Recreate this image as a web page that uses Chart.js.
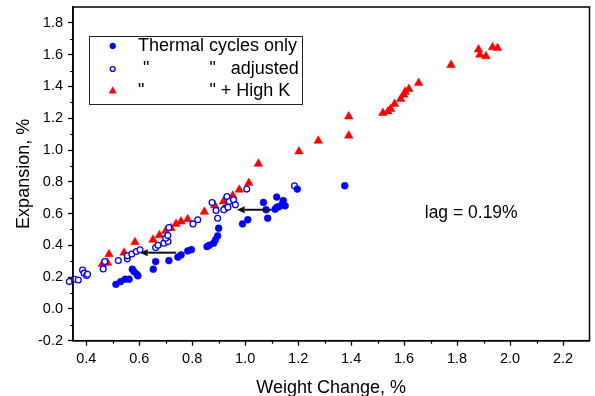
<!DOCTYPE html>
<html>
<head>
<meta charset="utf-8">
<script src="https://cdn.jsdelivr.net/npm/chart.js"></script>
<style>
  body { margin: 0; background: #fff; overflow: hidden; }
</style>
</head>
<body>
<canvas id="expansionChart" width="595" height="396"></canvas>
<script>
// weight change (%) and expansion (%)
const thermalX = [0.512, 0.530, 0.547, 0.562, 0.574, 0.580, 0.591, 0.595, 0.653, 0.662, 0.712, 0.746, 0.758, 0.783, 0.797,
    0.856, 0.865, 0.881, 0.888, 0.896, 0.900, 0.990, 1.010, 1.069, 1.079, 1.085, 1.119, 1.113, 1.129, 1.144, 1.151,
    1.140, 1.120, 1.197, 1.376];
const thermalY = [0.155, 0.172, 0.187, 0.187, 0.250, 0.235, 0.218, 0.208, 0.250, 0.298, 0.304, 0.326, 0.340, 0.365, 0.373,
    0.392, 0.401, 0.414, 0.435, 0.460, 0.508, 0.535, 0.561, 0.670, 0.624, 0.571, 0.704, 0.628, 0.644, 0.682, 0.649,
    0.660, 0.640, 0.754, 0.775];

const adjustedX = [0.324, 0.336, 0.355, 0.370, 0.386, 0.392, 0.401, 0.405, 0.464, 0.470, 0.521, 0.555, 0.555, 0.572, 0.589,
    0.603, 0.662, 0.671, 0.693, 0.709, 0.700, 0.708, 0.712, 0.803, 0.821, 0.875, 0.890, 0.896, 0.925, 0.931, 0.940,
    0.956, 0.963, 0.919, 0.935, 1.006, 1.186];
const adjustedY = [0.154, 0.172, 0.187, 0.182, 0.245, 0.225, 0.210, 0.218, 0.252, 0.298, 0.304, 0.315, 0.334, 0.346, 0.361,
    0.372, 0.386, 0.401, 0.414, 0.424, 0.445, 0.462, 0.512, 0.535, 0.561, 0.670, 0.619, 0.571, 0.634, 0.707, 0.676,
    0.687, 0.655, 0.624, 0.640, 0.754, 0.775];

const highKX = [0.461, 0.480, 0.486, 0.543, 0.584, 0.652, 0.676, 0.700, 0.720, 0.739, 0.758, 0.783, 0.846, 0.885, 0.918,
    0.953, 0.978, 1.014, 1.050, 1.203, 1.276, 1.391, 1.391, 1.520, 1.539, 1.549, 1.564, 1.587, 1.599, 1.604, 1.618,
    1.655, 1.777, 1.881, 1.886, 1.909, 1.934, 1.953];
const highKY = [0.283, 0.290, 0.344, 0.354, 0.420, 0.435, 0.464, 0.491, 0.508, 0.535, 0.550, 0.565, 0.611, 0.651, 0.676,
    0.712, 0.750, 0.792, 0.913, 0.991, 1.058, 1.211, 1.090, 1.233, 1.243, 1.258, 1.290, 1.321, 1.348, 1.367, 1.384,
    1.422, 1.535, 1.632, 1.600, 1.590, 1.646, 1.642];

const xTicks = [0.4, 0.6, 0.8, 1.0, 1.2, 1.4, 1.6, 1.8, 2.0, 2.2];
const yTicks = [-0.2, 0.0, 0.2, 0.4, 0.6, 0.8, 1.0, 1.2, 1.4, 1.6, 1.8];
const xMinorTicks = [0.5, 0.7, 0.9, 1.1, 1.3, 1.5, 1.7, 1.9, 2.1];
const yMinorTicks = [-0.1, 0.1, 0.3, 0.5, 0.7, 0.9, 1.1, 1.3, 1.5, 1.7];

const legendLabels = [
    'Thermal cycles only',
    ' "            "   adjusted',
    '"             " + High K'
];
// shift arrows: [from, to] in data units
const arrowStarts = [[1.10, 0.624], [0.74, 0.354]];
const arrowEnds = [[0.968, 0.624], [0.602, 0.354]];
const lagLabel = 'lag = 0.19%';
const lagAt = [1.678, 0.605];

const FONT = '"Liberation Sans", Arial, sans-serif';
Chart.defaults.font.family = FONT;
Chart.defaults.color = '#000';

function toPoints(xs, ys) {
    return xs.map((x, i) => ({ x: x, y: ys[i] }));
}

function marker(ctx, opts, x, y) {
    ctx.save();
    ctx.fillStyle = opts.backgroundColor;
    ctx.strokeStyle = opts.borderColor;
    ctx.lineWidth = opts.borderWidth;
    if (Chart.helpers && Chart.helpers.drawPoint) {
        Chart.helpers.drawPoint(ctx, { pointStyle: opts.pointStyle, radius: opts.radius, rotation: 0, borderWidth: opts.borderWidth }, x, y);
    } else {
        ctx.beginPath();
        ctx.arc(x, y, opts.radius, 0, Math.PI * 2);
        ctx.fill();
        ctx.stroke();
    }
    ctx.restore();
}

const extras = {
    id: 'extras',
    afterDatasetsDraw(chart) {
        const ctx = chart.ctx;
        const xs = chart.scales.x, ys = chart.scales.y;
        ctx.save();
        ctx.strokeStyle = '#111';
        ctx.fillStyle = '#111';
        ctx.lineWidth = 2;
        arrowStarts.forEach((s, i) => {
            const x0 = xs.getPixelForValue(s[0]), y0 = ys.getPixelForValue(s[1]);
            const x1 = xs.getPixelForValue(arrowEnds[i][0]), y1 = ys.getPixelForValue(arrowEnds[i][1]);
            const a = Math.atan2(y1 - y0, x1 - x0);
            const len = 8, half = 3.5;
            const bx = x1 - Math.cos(a) * len, by = y1 - Math.sin(a) * len;
            ctx.beginPath();
            ctx.moveTo(x0, y0);
            ctx.lineTo(bx, by);
            ctx.stroke();
            ctx.beginPath();
            ctx.moveTo(x1, y1);
            ctx.lineTo(bx + Math.sin(a) * half, by - Math.cos(a) * half);
            ctx.lineTo(bx - Math.sin(a) * half, by + Math.cos(a) * half);
            ctx.closePath();
            ctx.fill();
        });
        ctx.restore();
    },
    afterDraw(chart) {
        const ctx = chart.ctx;
        const area = chart.chartArea;
        const xs = chart.scales.x, ys = chart.scales.y;
        ctx.save();
        // frame
        ctx.strokeStyle = '#000';
        ctx.lineWidth = 1.5;
        ctx.strokeRect(area.left, area.top, area.right - area.left, area.bottom - area.top);
        // minor ticks
        ctx.lineWidth = 1.2;
        ctx.beginPath();
        xMinorTicks.forEach(v => {
            const px = Math.round(xs.getPixelForValue(v)) + 0.5;
            ctx.moveTo(px, area.bottom);
            ctx.lineTo(px, area.bottom + 3);
        });
        yMinorTicks.forEach(v => {
            const py = Math.round(ys.getPixelForValue(v)) + 0.5;
            ctx.moveTo(area.left, py);
            ctx.lineTo(area.left - 3, py);
        });
        ctx.stroke();

        // legend box
        ctx.lineWidth = 1;
        ctx.strokeStyle = '#222';
        ctx.strokeRect(89.5, 36.5, 213, 68);
        ctx.font = '18px ' + FONT;
        ctx.fillStyle = '#000';
        ctx.textBaseline = 'middle';
        ctx.textAlign = 'left';
        const rows = [46, 69, 91];
        chart.data.datasets.forEach((ds, i) => {
            marker(ctx, {
                pointStyle: ds.pointStyle,
                radius: ds.pointRadius * 0.85,
                backgroundColor: ds.backgroundColor,
                borderColor: ds.borderColor,
                borderWidth: ds.borderWidth
            }, 112.7, rows[i]);
            ctx.fillStyle = '#000';
            ctx.fillText(legendLabels[i], 138, rows[i]);
        });

        // lag note
        ctx.font = '17.5px ' + FONT;
        ctx.fillText(lagLabel, xs.getPixelForValue(lagAt[0]), ys.getPixelForValue(lagAt[1]));
        ctx.restore();
    }
};

const ctx = document.getElementById('expansionChart').getContext('2d');
const expansionChart = new Chart(ctx, {
    type: 'scatter',
    data: {
        datasets: [{
            label: legendLabels[0],
            data: toPoints(thermalX, thermalY),
            pointStyle: 'circle',
            pointRadius: 3.4,
            backgroundColor: '#0000ff',
            borderColor: '#0000ff',
            borderWidth: 0.6,
            clip: false
        }, {
            label: legendLabels[1],
            data: toPoints(adjustedX, adjustedY),
            pointStyle: 'circle',
            pointRadius: 2.9,
            backgroundColor: '#ffffff',
            borderColor: '#0000ff',
            borderWidth: 1.3,
            clip: false
        }, {
            label: legendLabels[2],
            data: toPoints(highKX, highKY),
            pointStyle: 'triangle',
            pointRadius: 5,
            backgroundColor: '#ff0000',
            borderColor: '#ff0000',
            borderWidth: 0.5,
            clip: false
        }]
    },
    options: {
        responsive: false,
        animation: false,
        devicePixelRatio: 1,
        layout: { padding: { top: 7, right: 2, left: 0, bottom: 0 } },
        plugins: {
            legend: { display: false },
            tooltip: { enabled: false }
        },
        scales: {
            x: {
                type: 'linear',
                min: 0.35,
                max: 2.3,
                afterBuildTicks: s => { s.ticks = xTicks.map(v => ({ value: v })); },
                afterFit: s => {
                    s.height = 55.3;
                    s.paddingLeft = 0; s.paddingRight = 0; s.paddingTop = 0; s.paddingBottom = 0;
                },
                ticks: {
                    autoSkip: false,
                    maxRotation: 0,
                    padding: 5,
                    font: { size: 14.5 },
                    color: '#000',
                    callback: v => v.toFixed(1)
                },
                grid: {
                    drawOnChartArea: false,
                    drawTicks: true,
                    tickLength: 5,
                    tickWidth: 1.3,
                    tickColor: '#000'
                },
                border: { display: true, color: '#000', width: 1.5 },
                title: {
                    display: true,
                    text: 'Weight Change, %',
                    font: { size: 18 },
                    color: '#000',
                    padding: { top: 0, bottom: -3 }
                }
            },
            y: {
                type: 'linear',
                min: -0.2,
                max: 1.9,
                afterBuildTicks: s => { s.ticks = yTicks.map(v => ({ value: v })); },
                afterFit: s => {
                    s.width = 73;
                    s.paddingLeft = 0; s.paddingRight = 0; s.paddingTop = 0; s.paddingBottom = 0;
                },
                ticks: {
                    autoSkip: false,
                    padding: 5,
                    font: { size: 14.5 },
                    color: '#000',
                    callback: v => v.toFixed(1)
                },
                grid: {
                    drawOnChartArea: false,
                    drawTicks: true,
                    tickLength: 5,
                    tickWidth: 1.3,
                    tickColor: '#000'
                },
                border: { display: true, color: '#000', width: 1.5 },
                title: {
                    display: true,
                    text: 'Expansion, %',
                    font: { size: 18 },
                    color: '#000',
                    padding: { top: 13.2, bottom: 0 }
                }
            }
        }
    },
    plugins: [extras]
});
</script>
</body>
</html>
